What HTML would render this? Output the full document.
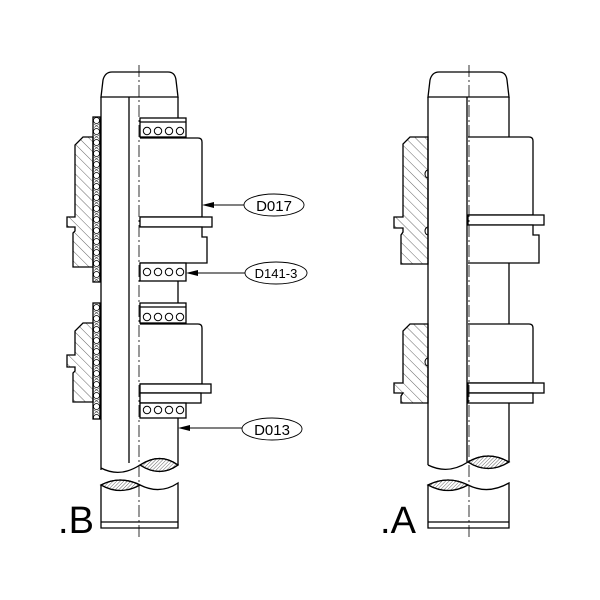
<!DOCTYPE html>
<html><head><style>html,body{margin:0;padding:0;background:#fff}svg{display:block}</style></head>
<body>
<svg width="600" height="600" viewBox="0 0 600 600" xmlns="http://www.w3.org/2000/svg">
<defs>
<pattern id="h" width="7" height="7" patternUnits="userSpaceOnUse" patternTransform="rotate(-45)"><line x1="0" y1="0" x2="0" y2="7" stroke="#000" stroke-width="0.6"/></pattern>
<pattern id="hf" width="2.5" height="2.5" patternUnits="userSpaceOnUse" patternTransform="rotate(45)"><line x1="0" y1="0" x2="0" y2="2.5" stroke="#000" stroke-width="0.6"/></pattern>
<pattern id="bs" width="7" height="11" patternUnits="userSpaceOnUse" x="93" y="117"><path d="M1 7L6 10.5M6 7L1 10.5" stroke="#000" stroke-width="0.5"/><circle cx="3.5" cy="3.5" r="3" fill="#fff" stroke="#000" stroke-width="0.7"/></pattern>
</defs>
<g fill="none" stroke="#000" stroke-width="1.3">
<!-- ===== B ===== -->
<path d="M101 97 L103 80 Q105 72 112 72 L168 72 Q175 72 176 80 L178 97 Z" fill="#fff"/>
<line x1="101" y1="97" x2="101" y2="470"/>
<line x1="129" y1="97" x2="129" y2="463"/>
<line x1="178" y1="97" x2="178" y2="465"/>
<rect x="93" y="117" width="7" height="165" fill="url(#bs)"/>
<rect x="93" y="303" width="7" height="116" fill="url(#bs)"/>
<path d="M93 137 L83 137 L75 145 L75 217 L67 217 L67 227 L75 227 L75 231 L73 233 L73 267 L93 267 Z" fill="url(#h)"/>
<path d="M93 323 L83 323 L75 331 L75 355 L67 355 L67 367 L75 367 L75 371 L73 373 L73 402 L93 402 Z" fill="url(#h)"/>
<!-- right parts B -->
<rect x="140" y="118" width="46" height="19" fill="#fff"/>
<line x1="140" y1="122" x2="186" y2="122"/>
<g stroke-width="1"><circle cx="147" cy="131" r="3.7"/><circle cx="158" cy="131" r="3.7"/><circle cx="169" cy="131" r="3.7"/><circle cx="180" cy="131" r="3.7"/></g>
<path d="M140 138 L198 138 Q202 138 202 142 L202 217 L140 217" fill="#fff"/>
<rect x="140" y="217" width="72" height="10" fill="#fff"/>
<path d="M140 227 L202 227 L202 237 L207 237 L207 263 L140 263" fill="#fff"/>
<rect x="140" y="263" width="46" height="18" fill="#fff"/>
<g stroke-width="1"><circle cx="147" cy="272" r="3.7"/><circle cx="158" cy="272" r="3.7"/><circle cx="169" cy="272" r="3.7"/><circle cx="180" cy="272" r="3.7"/></g>
<rect x="140" y="303" width="46" height="20" fill="#fff"/>
<line x1="140" y1="307" x2="186" y2="307"/>
<g stroke-width="1"><circle cx="147" cy="317" r="3.7"/><circle cx="158" cy="317" r="3.7"/><circle cx="169" cy="317" r="3.7"/><circle cx="180" cy="317" r="3.7"/></g>
<path d="M140 324 L198 324 Q202 324 202 328 L202 384 L140 384" fill="#fff"/>
<rect x="140" y="384" width="71" height="9" fill="#fff"/>
<rect x="140" y="393" width="61" height="10" fill="#fff"/>
<rect x="140" y="403" width="46" height="15" fill="#fff"/>
<g stroke-width="1"><circle cx="147" cy="410" r="3.7"/><circle cx="158" cy="410" r="3.7"/><circle cx="169" cy="410" r="3.7"/><circle cx="180" cy="410" r="3.7"/></g>
<!-- break B -->
<path d="M101 468 Q120 478 140 465 Q160 452 178 465 Q160 478 140 465" fill="#fff"/>
<path d="M140 465 Q160 452 178 465 Q160 478 140 465 Z" fill="url(#hf)"/>
<path d="M101 485 Q120 475 140 485 Q120 496 101 485 Z" fill="url(#hf)"/>
<path d="M101 485 Q120 475 140 485 Q160 495 178 483 L178 528 L101 528 Z"/>
<line x1="101" y1="522" x2="178" y2="522"/>
<!-- ===== A ===== -->
<path d="M428 97 L430 80 Q432 72 439 72 L499 72 Q506 72 507 80 L509 97 Z" fill="#fff"/>
<line x1="428" y1="97" x2="428" y2="465"/>
<line x1="467" y1="97" x2="467" y2="462"/>
<line x1="509" y1="97" x2="509" y2="462"/>
<path d="M428 137 L410 137 L403 144 L403 217 L394 217 L394 228 L403 228 L403 232 L401 235 L401 264 L428 264 Z" fill="url(#h)"/>
<path d="M428 324 L410 324 L403 331 L403 383 L394 383 L394 393 L403 393 L401 396 L401 403 L428 403 Z" fill="url(#h)"/>
<path d="M428 170 A3 4 0 0 0 428 178 M428 227 A3 4 0 0 0 428 235 M428 358 A3 4 0 0 0 428 366" stroke-width="1"/>
<path d="M468 137 L529 137 Q533 137 533 141 L533 215 L468 215" fill="#fff"/>
<rect x="468" y="215" width="76" height="10" fill="#fff"/>
<path d="M468 225 L533 225 L533 235 L539 235 L539 263 L468 263" fill="#fff"/>
<path d="M468 324 L529 324 Q533 324 533 328 L533 383 L468 383" fill="#fff"/>
<rect x="468" y="383" width="76" height="10" fill="#fff"/>
<rect x="468" y="393" width="65" height="10" fill="#fff"/>
<path d="M428 465 Q448 475 468 462 Q488 450 509 462 Q488 475 468 462" fill="#fff"/>
<path d="M468 462 Q488 450 509 462 Q488 475 468 462 Z" fill="url(#hf)"/>
<path d="M428 485 Q448 475 468 485 Q448 496 428 485 Z" fill="url(#hf)"/>
<path d="M428 485 Q448 475 468 485 Q488 495 509 483 L509 528 L428 528 Z"/>
<line x1="428" y1="522" x2="509" y2="522"/>
</g>
<!-- centerlines -->
<g stroke="#000" stroke-width="0.8" stroke-dasharray="12 3 2 3" fill="none">
<line x1="139" y1="65" x2="139" y2="540"/>
<line x1="469" y1="65" x2="469" y2="540"/>
</g>
<!-- leaders -->
<g stroke="#000" stroke-width="0.9" fill="none">
<line x1="244" y1="205" x2="210" y2="205"/>
<line x1="245" y1="273" x2="194" y2="273"/>
<line x1="242" y1="428" x2="186" y2="428"/>
<ellipse cx="274" cy="205" rx="30" ry="11" fill="#fff"/>
<ellipse cx="276" cy="273" rx="31" ry="11" fill="#fff"/>
<ellipse cx="272" cy="429" rx="30" ry="11" fill="#fff"/>
</g>
<g fill="#000">
<path d="M202 205 L214 202 L214 208 Z"/>
<path d="M186 273 L198 270 L198 276 Z"/>
<path d="M178 428 L190 425 L190 431 Z"/>
</g>
<g font-family="Liberation Sans, sans-serif" fill="#000" text-anchor="middle">
<text x="274" y="211" font-size="15">D017</text>
<text x="276" y="278" font-size="13">D141-3</text>
<text x="272" y="435" font-size="15">D013</text>
<text x="76" y="533" font-size="38" text-anchor="middle">.B</text>
<text x="398" y="533" font-size="38" text-anchor="middle">.A</text>
</g>
</svg>
</body></html>
